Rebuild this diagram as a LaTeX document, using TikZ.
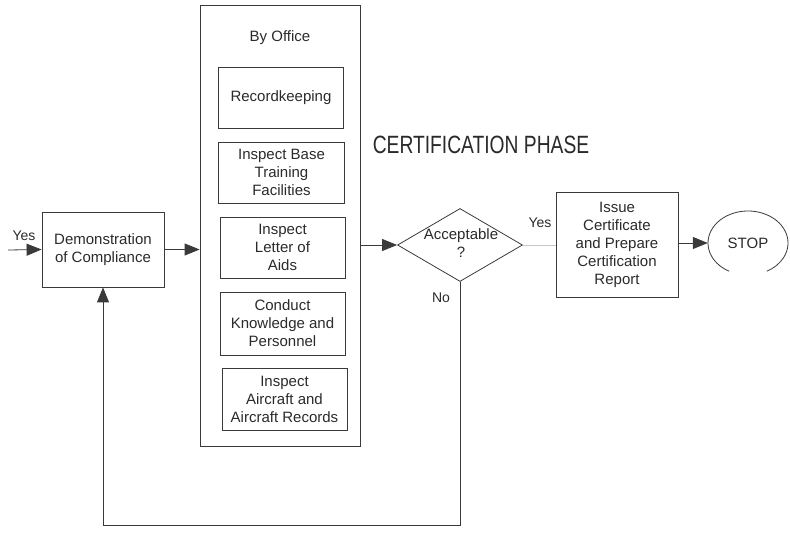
\documentclass[tikz,border=0pt]{standalone}
\usepackage{fontspec}
\setmainfont{Liberation Sans}
\usetikzlibrary{shapes.geometric,arrows.meta}
\definecolor{ink}{HTML}{3A3A3A}
\definecolor{txt}{HTML}{2A2A2A}
\tikzset{
  base/.style={draw=ink, line width=0.8pt, text=txt, font=\fontsize{15}{18}\selectfont,
    align=center, inner sep=0pt},
  box/.style={base, rectangle},
  decision/.style={base, diamond, minimum width=125pt, minimum height=73pt},
  lbl/.style={text=txt, font=\fontsize{15}{18}\selectfont, align=center, inner sep=0pt},
  small/.style={text=txt, font=\fontsize{14}{16}\selectfont, inner sep=0pt},
  arr/.style={draw=ink, line width=0.8pt, -{Triangle[length=15pt,width=12pt]}},
  link/.style={draw=ink, line width=0.8pt},
}
\begin{document}
\begin{tikzpicture}[x=1pt,y=-1pt]
\useasboundingbox (0,0) rectangle (790,537);

% office column with its inspection steps
\node[box, minimum width=160pt, minimum height=441pt] (office) at (280,225.5) {};
\node[lbl] (byoffice) at (280,38) {By Office};
\node[box, minimum width=125pt, minimum height=61pt] (rec) at (281,97.5) {Recordkeeping};
\node[box, minimum width=126pt, minimum height=61pt] (basefac) at (281.5,172.5) {Inspect Base\\Training\\Facilities};
\node[box, minimum width=125pt, minimum height=61pt] (letter) at (282.5,247.5) {Inspect\\Letter of\\Aids};
\node[box, minimum width=125pt, minimum height=63pt] (conduct) at (282.5,323.5) {Conduct\\Knowledge and\\Personnel};
\node[box, minimum width=125pt, minimum height=62pt] (aircraft) at (284.5,399) {Inspect\\Aircraft and\\Aircraft Records};

% entry step
\node[box, minimum width=122pt, minimum height=75pt] (demo) at (103,249.5) {Demonstration\\of Compliance};
\coordinate (entry) at (8,250);
\draw[arr] (entry) -- (demo.west);
\node[small] (yesin) at (24,236) {Yes};

% phase title
\node[text=txt, inner sep=0pt] (phase) at (481,145)
  {\scalebox{0.77}[1]{\fontsize{25}{28}\selectfont CERTIFICATION PHASE}};

% decision
\node[decision] (acc) at (460,245) {};
\node[lbl] (acctext) at (461,243) {Acceptable\\?};
\node[small] (yesout) at (540,223) {Yes};
\node[small] (no) at (441,298) {No};

% certificate and stop
\node[box, minimum width=122pt, minimum height=105pt] (issue) at (617,245)
  {Issue\\Certificate\\and Prepare\\Certification\\Report};
\node[ellipse, minimum width=80pt, minimum height=64pt, inner sep=0pt,
  text=txt, font=\fontsize{15}{18}\selectfont] (stop) at (748,243) {STOP};
\draw[link] ([shift={(118:40 and 32)}]stop.center) arc[start angle=118, end angle=422, x radius=40, y radius=32];

% connectors
\draw[arr] (demo.east) -- (demo.east -| office.west);
\draw[arr] (office.east |- acc.west) -- (acc.west);
\draw[draw=gray!45, line width=0.6pt] (acc.east) -- (issue.west |- acc.east);
\draw[arr] (issue.east |- stop.west) -- (stop.west);
\draw[arr] (acc.south) -- ++(0,243.5) -| (demo.south);
\end{tikzpicture}
\end{document}
